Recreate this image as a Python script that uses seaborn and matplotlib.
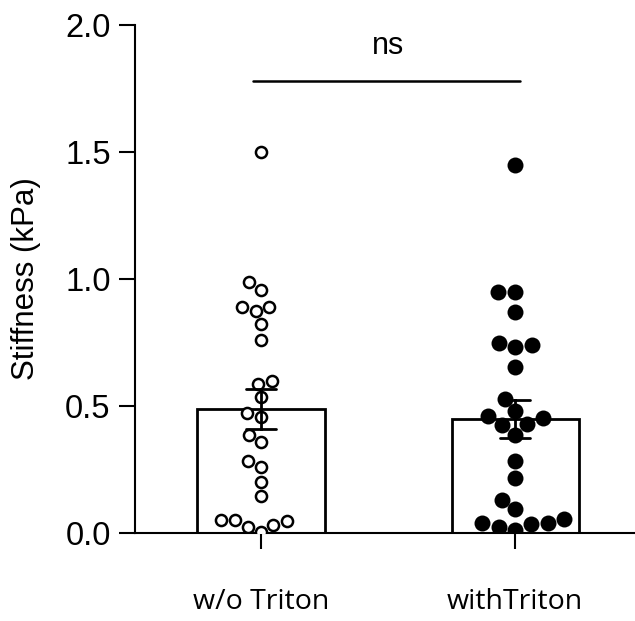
import pandas as pd
import matplotlib
matplotlib.use("Agg")
import matplotlib.pyplot as plt
import seaborn as sns

groups = ["w/o Triton", "withTriton"]

wo_triton = [1.50, 0.987, 0.957, 0.891, 0.890, 0.873, 0.823, 0.761, 0.587, 0.597,
             0.535, 0.474, 0.457, 0.387, 0.358, 0.283, 0.260, 0.201, 0.144, 0.051,
             0.033, 0.004, 0.025, 0.047, 0.052]
with_triton = [1.450, 0.949, 0.949, 0.870, 0.732, 0.748, 0.739, 0.652, 0.529, 0.479,
               0.454, 0.459, 0.426, 0.430, 0.386, 0.283, 0.215, 0.131, 0.094, 0.040,
               0.034, 0.013, 0.024, 0.039, 0.056]

yticks = [0.0, 0.5, 1.0, 1.5, 2.0]

data = pd.DataFrame({
    "group": [groups[0]] * len(wo_triton) + [groups[1]] * len(with_triton),
    "stiffness": wo_triton + with_triton,
})

sns.set_style("ticks", {"axes.edgecolor": "black", "text.color": "black",
                        "axes.labelcolor": "black", "xtick.color": "black",
                        "ytick.color": "black"})
plt.rcParams["font.family"] = ["Liberation Sans", "DejaVu Sans"]

fig = plt.figure(figsize=(6.35, 6.21), dpi=100)
ax = fig.add_axes([135 / 635, 88 / 621, 500 / 635, 508 / 621])

sns.barplot(data=data, x="group", y="stiffness", order=groups, width=0.5,
            errorbar="se", capsize=0.12, color="white", edgecolor="black",
            linewidth=2, saturation=1,
            err_kws={"color": "black", "linewidth": 2, "zorder": 4}, ax=ax)

sns.swarmplot(data=data[data["group"] == groups[0]], x="group", y="stiffness",
              order=groups, color="white", edgecolor="black", linewidth=1.8,
              size=8, zorder=3, ax=ax)
sns.swarmplot(data=data[data["group"] == groups[1]], x="group", y="stiffness",
              order=groups, color="black", linewidth=0, size=11.5,
              zorder=3, ax=ax)

# significance bar
ax.plot([-0.03, 1.02], [1.78, 1.78], color="black", lw=1.8, clip_on=False)
ax.text(0.5, 1.86, "ns", ha="center", va="bottom", fontsize=22)

ax.set_xlim(-0.496, 1.472)
ax.set_ylim(0, 2.0)
ax.set_yticks(yticks)
ax.set_xlabel("")
ax.set_ylabel("Stiffness (kPa)", fontsize=22.5, labelpad=17)

ax.tick_params(axis="y", labelsize=23.5, length=11.5, width=1.5, pad=6)
ax.tick_params(axis="x", labelsize=20.5, length=11.5, width=1.5, pad=28)
for lab in ax.get_xticklabels():
    lab.set_family(["Open Sans", "DejaVu Sans"])

sns.despine(ax=ax)
for s in ["left", "bottom"]:
    ax.spines[s].set_linewidth(1.5)

plt.savefig("out.png", dpi=100)
